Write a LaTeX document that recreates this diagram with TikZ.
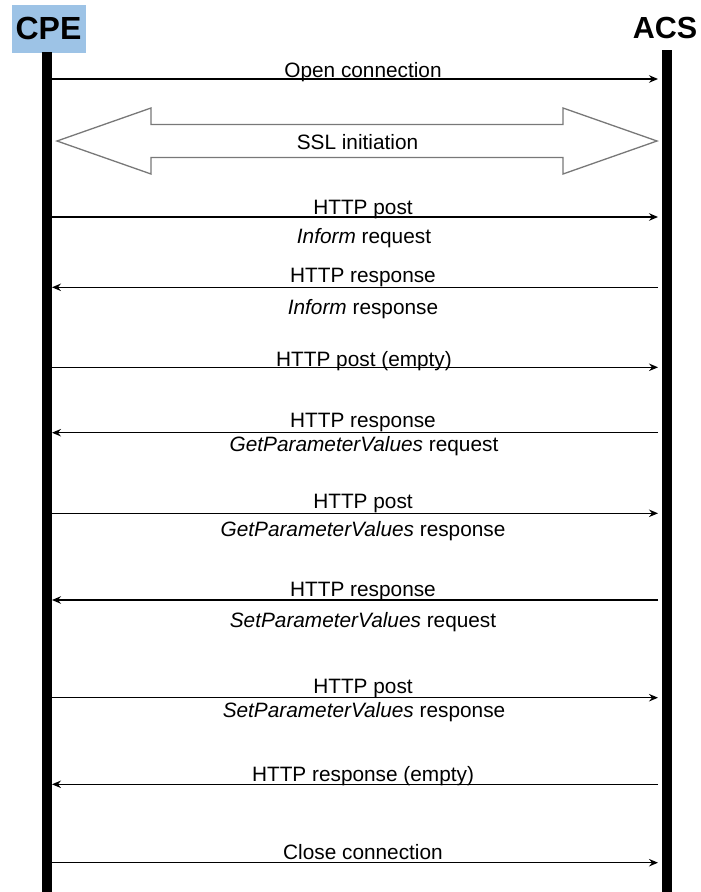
\documentclass[tikz,border=0pt]{standalone}
\usepackage{fontspec}
\setmainfont{Liberation Sans}
\usetikzlibrary{arrows.meta}
\definecolor{cpeblue}{RGB}{157,195,230}
\definecolor{sslgray}{RGB}{120,120,120}
\begin{document}
\begin{tikzpicture}[x=1pt,y=-1pt,
  lifeline/.style={line width=10pt},
  msg/.style={line width=1.2pt,-{Stealth[length=9pt,width=7.5pt,inset=3pt]}},
  lbl/.style={font=\fontsize{20.8}{24}\selectfont, anchor=base, inner sep=0pt},
  actor/.style={font=\bfseries\fontsize{32}{36}\selectfont, anchor=base, inner sep=0pt},
  sslarrow/.style={draw=sslgray, line width=1.3pt, fill=white, line join=miter}]
\useasboundingbox (0,0) rectangle (701,892);

% actors
\node[fill=cpeblue, minimum width=74pt, minimum height=48pt, inner sep=0pt] (cpebox) at (49,29) {};
\node[actor] (cpe) at (48.5,39) {CPE};
\node[actor, font=\bfseries\fontsize{30.5}{34}\selectfont] (acs) at (665,38) {ACS};

% lifelines
\coordinate (cpeTop) at (47,52);
\coordinate (cpeBot) at (47,892);
\coordinate (acsTop) at (667,50);
\coordinate (acsBot) at (667,892);
\draw[lifeline] (cpeTop) -- (cpeBot);
\draw[lifeline] (acsTop) -- (acsBot);

% message end points
\foreach \n/\y in {1/79,3/217,4/287.3,5/367.3,6/432.7,7/513.3,8/600,9/697.7,10/784.3,11/862.7}{
  \coordinate (c\n) at (52,\y);
  \coordinate (a\n) at (658,\y);
}

% messages
\draw[msg] (c1) -- (a1);
\draw[msg] (c3) -- (a3);
\draw[msg] (a4) -- (c4);
\draw[msg] (c5) -- (a5);
\draw[msg] (a6) -- (c6);
\draw[msg] (c7) -- (a7);
\draw[msg] (a8) -- (c8);
\draw[msg] (c9) -- (a9);
\draw[msg] (a10) -- (c10);
\draw[msg] (c11) -- (a11);

% SSL initiation double arrow
\draw[sslarrow] (57,141) -- (151,108) -- (151,124.5) -- (563,124.5) -- (563,108)
  -- (657,141) -- (563,174) -- (563,157.5) -- (151,157.5) -- (151,174) -- cycle;
\node[lbl] (ssl) at (357.5,149.3) {SSL initiation};

% labels
\node[lbl] (l1) at (363,77) {Open connection};
\node[lbl] (l3) at (363,214) {HTTP post};
\node[lbl] (l3b) at (364,243) {\textit{Inform} request};
\node[lbl] (l4) at (363,282) {HTTP response};
\node[lbl] (l4b) at (363,314) {\textit{Inform} response};
\node[lbl] (l5) at (364,366) {HTTP post (empty)};
\node[lbl] (l6) at (363,427.5) {HTTP response};
\node[lbl] (l6b) at (364,451.7) {\textit{GetParameterValues} request};
\node[lbl] (l7) at (363,508.3) {HTTP post};
\node[lbl] (l7b) at (363,536.7) {\textit{GetParameterValues} response};
\node[lbl] (l8) at (363,596) {HTTP response};
\node[lbl] (l8b) at (363,627.3) {\textit{SetParameterValues} request};
\node[lbl] (l9) at (363,693.3) {HTTP post};
\node[lbl] (l9b) at (364,717) {\textit{SetParameterValues} response};
\node[lbl] (l10) at (363,781.7) {HTTP response (empty)};
\node[lbl] (l11) at (363,859) {Close connection};
\end{tikzpicture}
\end{document}
